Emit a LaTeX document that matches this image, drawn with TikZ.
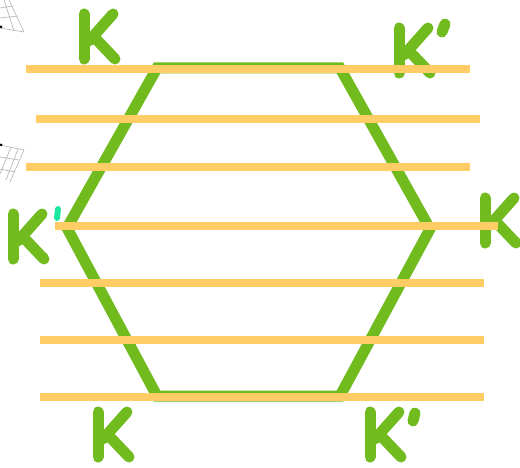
\documentclass[tikz,border=0pt]{standalone}
\definecolor{hexgreen}{RGB}{114,187,31}
\definecolor{bandorange}{RGB}{255,204,102}
\definecolor{primecyan}{RGB}{30,232,160}
\tikzset{
  hexedge/.style={draw=hexgreen,line width=11pt,line join=miter},
  band/.style={draw=bandorange,line width=8pt},
  kstroke/.style={draw=hexgreen,line width=11pt,line cap=round},
  gridbit/.style={draw=black!30,line width=0.6pt},
  pics/kletter/.style={code={
    \draw[kstroke] (0,0) -- (0,45);
    \draw[kstroke] (5,27) -- (29,0);
    \draw[kstroke] (12,25) -- (31,45);
  }}
}
\begin{document}
\begin{tikzpicture}[x=1pt,y=-1pt]
\useasboundingbox (0,0) rectangle (520,468);
% small grid fragments at the left edge
\draw[gridbit] (9,0) -- (24,32) -- (0,28);
\draw[gridbit] (0,8) -- (13,6) (0,18) -- (18,16) (4,0) -- (14,31);
\fill[black] (1,27) circle (1.5);
\draw[gridbit] (0,145) -- (24,150) -- (10,182);
\draw[gridbit] (0,157) -- (19,160) (0,169) -- (15,172) (11,147) -- (0,174) (18,149) -- (6,180);
\fill[black] (1,145) circle (1.5);
% hexagon
\coordinate (tl) at (157,68);
\coordinate (tr) at (340,68);
\coordinate (r) at (430,229);
\coordinate (br) at (340,396);
\coordinate (bl) at (157,396);
\coordinate (l) at (67,228);
\draw[hexedge] (tl) -- (tr) -- (r) -- (br) -- (bl) -- (l) -- cycle;
% orange bands
\foreach \ya/\xa/\xb [count=\i] in {69/26/470, 119/36/480, 167/26/470, 226/55/498, 283/40/484, 340/40/484, 397/40/484}{
  \coordinate (b\i w) at (\xa,\ya);
  \coordinate (b\i e) at (\xb,\ya);
}
% letters (drawn before the bands that cross them)
\pic at (84,14) {kletter};
\pic at (399,28) {kletter};
\draw[kstroke] (445,24) -- (442,32);
\pic at (13,214) {kletter};
\draw[kstroke,draw=primecyan,line width=6pt] (58,209) -- (57,218);
\pic at (485,198) {kletter};
\pic at (98,412) {kletter};
\pic at (370,412) {kletter};
\draw[kstroke] (415,413) -- (413,421);
\foreach \i in {1,...,7}{
  \draw[band] (b\i w) -- (b\i e);
}
\end{tikzpicture}
\end{document}
